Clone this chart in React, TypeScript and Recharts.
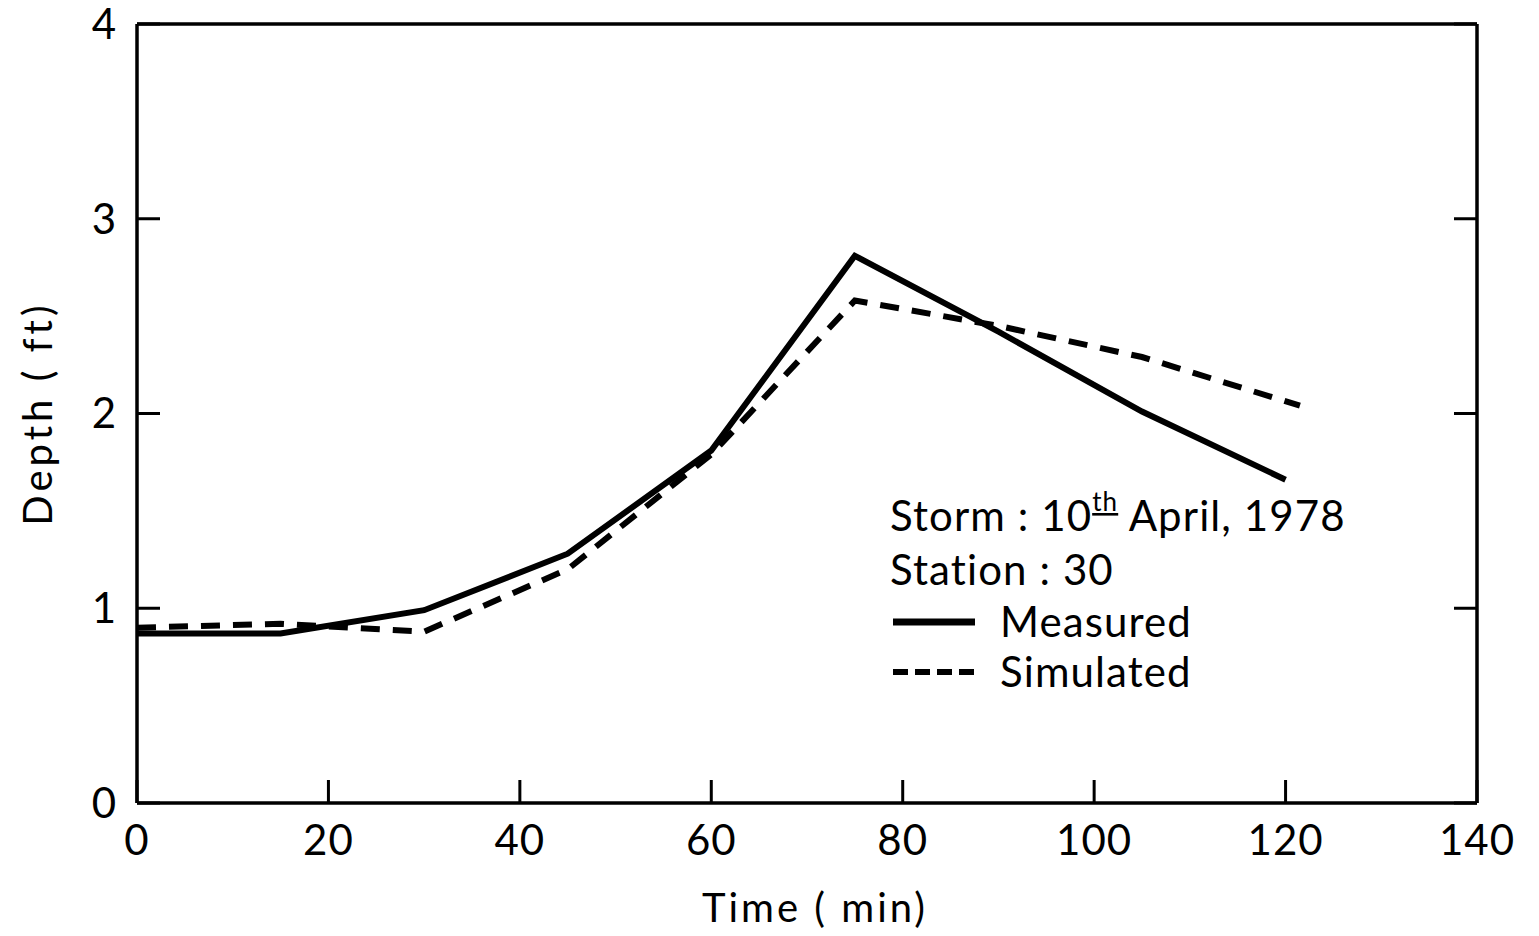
import React from 'react';
import {LineChart, Line, XAxis, YAxis} from 'recharts';

const measuredTime = [0, 15, 30, 45, 60, 75, 90, 105, 120];
const measuredDepth = [0.87, 0.87, 0.99, 1.28, 1.81, 2.81, 2.42, 2.01, 1.66];
const simulatedTime = [0, 15, 30, 45, 60, 75, 90, 105, 121.5];
const simulatedDepth = [0.9, 0.92, 0.88, 1.2, 1.79, 2.58, 2.45, 2.29, 2.04];
const timeTicks = [0, 20, 40, 60, 80, 100, 120, 140];
const depthTicks = [0, 1, 2, 3, 4];

const measured = measuredTime.map((t, i) => ({time: t, depth: measuredDepth[i]}));
const simulated = simulatedTime.map((t, i) => ({time: t, depth: simulatedDepth[i]}));

const FONT = 'Lato, "Noto Sans", sans-serif';
const INK = '#000';

const tickFont = {fill: INK, fontSize: 42, fontFamily: FONT, letterSpacing: 1};
const noLabel = () => <g />;

const XTitle = (props: any) => {
     const {viewBox} = props;
     return (
          <text
               x={viewBox.x + viewBox.width / 2 + 8}
               y={viewBox.y + viewBox.height - 14}
               textAnchor="middle"
               fontSize={40}
               fontFamily={FONT}
               letterSpacing={3}
               fill={INK}
          >
               Time ( min)
          </text>
     );
};

const YTitle = (props: any) => {
     const {viewBox} = props;
     const cx = 37;
     const cy = viewBox.y + viewBox.height / 2;
     return (
          <text
               x={cx}
               y={cy}
               transform={`rotate(-90, ${cx}, ${cy})`}
               textAnchor="middle"
               dominantBaseline="central"
               fontSize={40}
               fontFamily={FONT}
               letterSpacing={4}
               fill={INK}
          >
               Depth ( ft)
          </text>
     );
};

const Notes = () => (
     <svg
          width={520}
          height={230}
          style={{position: 'absolute', left: 870, top: 480, overflow: 'visible'}}
     >
          <g fontFamily={FONT} fontSize={42} fill={INK} letterSpacing={1.1}>
               <text x={20} y={51}>
                    Storm : 10
                    <tspan dy={-20} fontSize={26} style={{textDecoration: 'underline'}}>th</tspan>
                    <tspan dy={20}>  April, 1978</tspan>
               </text>
               <text x={20} y={105}>Station : 30</text>
               <line x1={23} x2={105} y1={142} y2={142} stroke={INK} strokeWidth={7} />
               <text x={130} y={157}>Measured</text>
               <line
                    x1={23}
                    x2={105}
                    y1={192}
                    y2={192}
                    stroke={INK}
                    strokeWidth={6}
                    strokeDasharray="15 7"
               />
               <text x={130} y={207}>Simulated</text>
          </g>
     </svg>
);

export default function App() {
     return (
          <div style={{position: 'absolute', left: 0, top: 0, width: 1539, height: 936, background: '#fff'}}>
               <LineChart width={1539} height={936} margin={{top: 0, right: 0, bottom: 0, left: 0}}>
                    <XAxis
                         xAxisId="b"
                         dataKey="time"
                         type="number"
                         domain={[0, 140]}
                         ticks={timeTicks}
                         allowDataOverflow
                         height={133}
                         tickSize={-23}
                         tickMargin={45}
                         axisLine={{stroke: INK, strokeWidth: 3.5}}
                         tickLine={{stroke: INK, strokeWidth: 3}}
                         tick={tickFont}
                         label={<XTitle />}
                    />
                    <XAxis
                         xAxisId="t"
                         orientation="top"
                         type="number"
                         domain={[0, 140]}
                         ticks={timeTicks}
                         allowDataOverflow
                         height={24}
                         tickSize={-23}
                         axisLine={{stroke: INK, strokeWidth: 3.5}}
                         tickLine={{stroke: INK, strokeWidth: 3}}
                         tick={noLabel}
                    />
                    <YAxis
                         yAxisId="l"
                         type="number"
                         domain={[0, 4]}
                         ticks={depthTicks}
                         allowDataOverflow
                         width={137}
                         tickSize={-23}
                         tickMargin={43}
                         axisLine={{stroke: INK, strokeWidth: 3.5}}
                         tickLine={{stroke: INK, strokeWidth: 3}}
                         tick={tickFont}
                         label={<YTitle />}
                    />
                    <YAxis
                         yAxisId="r"
                         orientation="right"
                         type="number"
                         domain={[0, 4]}
                         ticks={depthTicks}
                         allowDataOverflow
                         width={62}
                         tickSize={-23}
                         axisLine={{stroke: INK, strokeWidth: 3.5}}
                         tickLine={{stroke: INK, strokeWidth: 3}}
                         tick={noLabel}
                    />
                    <Line
                         data={measured}
                         xAxisId="b"
                         yAxisId="l"
                         dataKey="depth"
                         type="linear"
                         stroke={INK}
                         strokeWidth={6}
                         dot={false}
                         isAnimationActive={false}
                    />
                    <Line
                         data={simulated}
                         xAxisId="b"
                         yAxisId="l"
                         dataKey="depth"
                         type="linear"
                         stroke={INK}
                         strokeWidth={6}
                         strokeDasharray="19 13"
                         dot={false}
                         isAnimationActive={false}
                    />
               </LineChart>
               <Notes />
          </div>
     );
}
